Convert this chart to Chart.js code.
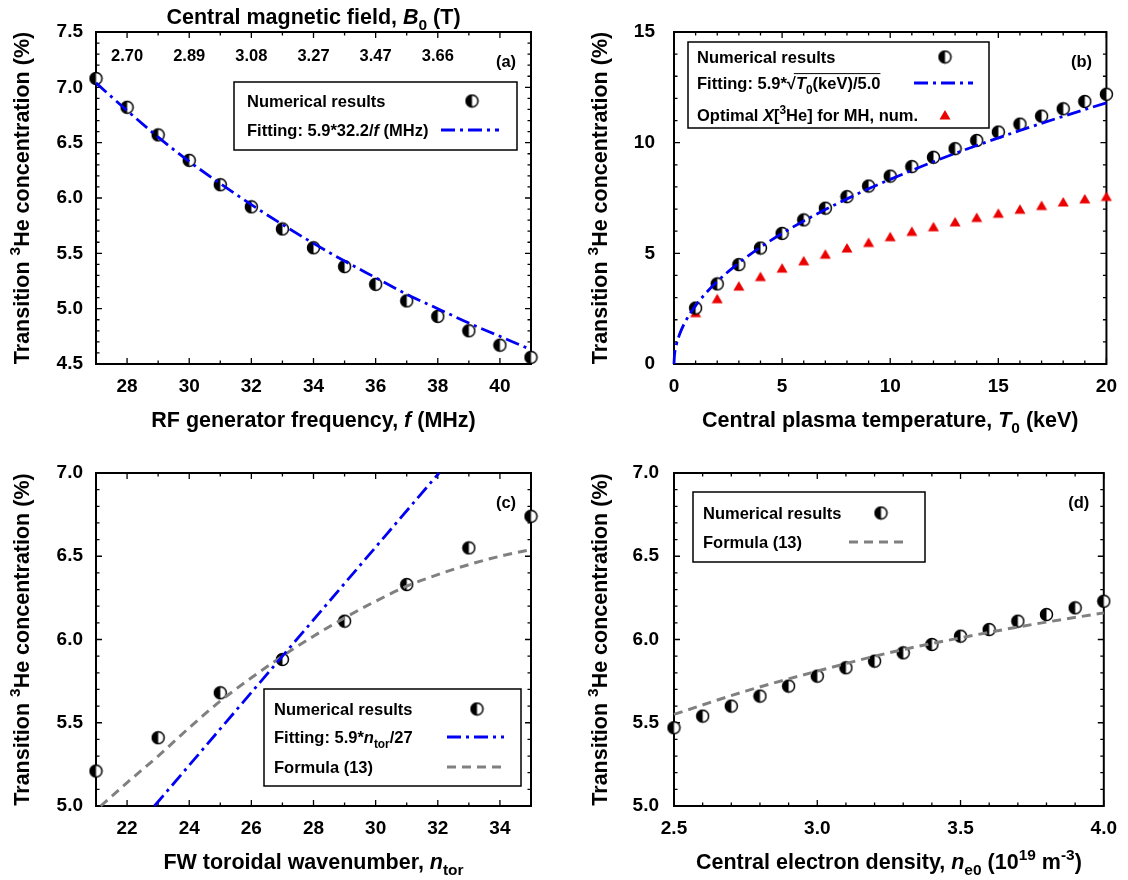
<!DOCTYPE html>
<html>
<head>
<meta charset="utf-8">
<script src="https://cdn.jsdelivr.net/npm/chart.js@4.4.1/dist/chart.umd.min.js"></script>
<style>
  body { margin: 0; background: #fff; }
  canvas { position: absolute; }
</style>
</head>
<body>
<canvas id="pa" width="564" height="440" style="left:0;top:0"></canvas>
<canvas id="pb" width="564" height="440" style="left:564px;top:0"></canvas>
<canvas id="pc" width="564" height="440" style="left:0;top:440px"></canvas>
<canvas id="pd" width="564" height="440" style="left:564px;top:440px"></canvas>
<script>
// (a) RF frequency scan
const freqMHz = [27, 28, 29, 30, 31, 32, 33, 34, 35, 36, 37, 38, 39, 40, 41];
const xHeFreq = [7.08, 6.82, 6.57, 6.34, 6.12, 5.92, 5.72, 5.55, 5.38, 5.22, 5.07, 4.93, 4.80, 4.67, 4.56];
const fitFreq = [7.04, 6.79, 6.55, 6.33, 6.13, 5.94, 5.76, 5.59, 5.43, 5.28, 5.13, 5.00, 4.87, 4.75, 4.63];
const bFieldAt = [28, 30, 32, 34, 36, 38];
const bFieldLabels = ['2.70', '2.89', '3.08', '3.27', '3.47', '3.66'];
const ticksFreq = [28, 30, 32, 34, 36, 38, 40];
const ticksA = [4.5, 5.0, 5.5, 6.0, 6.5, 7.0, 7.5];

// (b) temperature scan
const tempKeV = [1, 2, 3, 4, 5, 6, 7, 8, 9, 10, 11, 12, 13, 14, 15, 16, 17, 18, 19, 20];
const xHeTemp = [2.53, 3.62, 4.49, 5.24, 5.90, 6.51, 7.04, 7.56, 8.04, 8.49, 8.92, 9.34, 9.73, 10.10, 10.48, 10.84, 11.20, 11.53, 11.86, 12.19];
const optMH = [2.32, 2.95, 3.52, 3.95, 4.33, 4.66, 4.96, 5.24, 5.49, 5.75, 5.99, 6.20, 6.42, 6.62, 6.81, 6.99, 7.16, 7.32, 7.46, 7.57];
const fitTempX = [0, 0.02, 0.1, 0.25, 0.5, 1, 1.5, 2, 3, 4, 5, 6, 7, 8, 9, 10, 12, 14, 16, 18, 20];
const fitTempY = [0, 0.37, 0.83, 1.32, 1.87, 2.64, 3.23, 3.73, 4.57, 5.28, 5.90, 6.46, 6.98, 7.46, 7.92, 8.34, 9.14, 9.87, 10.55, 11.19, 11.80];
const ticksTemp = [0, 5, 10, 15, 20];
const ticksB = [0, 5, 10, 15];

// (c) toroidal wavenumber scan
const nTor = [21, 23, 25, 27, 29, 31, 33, 35];
const xHeTor = [5.21, 5.41, 5.68, 5.88, 6.11, 6.33, 6.55, 6.74];
const fitTorX = [22.88, 27, 32.04];
const fitTorY = [5.0, 5.9, 7.0];
const formTorX = [21.15, 22, 23, 24, 25, 26, 27, 28, 29, 30, 31, 32, 33, 34, 35];
const formTorY = [5.00, 5.14, 5.30, 5.47, 5.63, 5.77, 5.90, 6.02, 6.13, 6.23, 6.32, 6.39, 6.45, 6.50, 6.54];
const ticksTor = [22, 24, 26, 28, 30, 32, 34];
const ticksC = [5.0, 5.5, 6.0, 6.5, 7.0];

// (d) density scan
const neDens = [2.5, 2.6, 2.7, 2.8, 2.9, 3.0, 3.1, 3.2, 3.3, 3.4, 3.5, 3.6, 3.7, 3.8, 3.9, 4.0];
const xHeDens = [5.47, 5.54, 5.60, 5.66, 5.72, 5.78, 5.83, 5.87, 5.92, 5.97, 6.02, 6.06, 6.11, 6.15, 6.19, 6.23];
const formDensX = [2.5, 2.75, 3.0, 3.25, 3.5, 3.75, 4.0];
const formDensY = [5.55, 5.69, 5.81, 5.92, 6.01, 6.09, 6.16];
const ticksDens = [2.5, 3.0, 3.5, 4.0];
const ticksD = [5.0, 5.5, 6.0, 6.5, 7.0];

const FONT = '"Liberation Sans", Arial, sans-serif';
const BLUE = 'rgb(0,0,245)';
const GRAY = 'rgb(128,128,128)';
const blueDash = [14, 5, 3, 5];
const grayDash = [9, 6];

function halfCircle() {
  const c = document.createElement('canvas');
  c.width = c.height = 15;
  const g = c.getContext('2d');
  g.fillStyle = '#fff';
  g.beginPath(); g.arc(7.5, 7.5, 6, 0, 2 * Math.PI); g.fill();
  g.fillStyle = '#000';
  g.beginPath(); g.arc(7.5, 7.5, 6, Math.PI / 2, 3 * Math.PI / 2); g.closePath(); g.fill();
  g.strokeStyle = '#000'; g.lineWidth = 1.5;
  g.beginPath(); g.arc(7.5, 7.5, 6, 0, 2 * Math.PI); g.stroke();
  return c;
}
function triangle() {
  const c = document.createElement('canvas');
  c.width = c.height = 12;
  const g = c.getContext('2d');
  g.fillStyle = 'rgb(235,0,0)';
  g.beginPath(); g.moveTo(6, 1); g.lineTo(11.5, 10.5); g.lineTo(0.5, 10.5); g.closePath(); g.fill();
  return c;
}
const HALF = halfCircle();
const TRI = triangle();

const pts = (xs, ys) => xs.map((x, i) => ({ x: x, y: ys[i] }));

function lineSet(xs, ys, color, dash, width) {
  return { data: pts(xs, ys), showLine: true, pointRadius: 0, borderColor: color, borderWidth: width,
    borderDash: dash, fill: false, clip: false, cubicInterpolationMode: 'monotone' };
}
function pointSet(xs, ys, img) {
  return { data: pts(xs, ys), showLine: false, pointStyle: img, pointRadius: 6, clip: false };
}

// rich text: segments {t, i: italic, sub, sup, over}
function setFont(ctx, size, italic) {
  ctx.font = (italic ? 'italic ' : '') + 'bold ' + size + 'px ' + FONT;
}
const segSize = (s, size) => (s.sub || s.sup) ? size * 0.72 : size;
function drawRich(ctx, segs, x, cy, size, align) {
  let w = 0;
  segs.forEach(s => { setFont(ctx, segSize(s, size), s.i); w += ctx.measureText(s.t).width; });
  let px = align === 'center' ? x - w / 2 : x;
  const base = cy + size * 0.36;
  ctx.fillStyle = '#000';
  ctx.textAlign = 'left';
  ctx.textBaseline = 'alphabetic';
  let o0 = null, o1 = null;
  segs.forEach(s => {
    setFont(ctx, segSize(s, size), s.i);
    const dy = s.sub ? size * 0.28 : s.sup ? -size * 0.42 : 0;
    ctx.fillText(s.t, px, base + dy);
    const sw = ctx.measureText(s.t).width;
    if (s.over) { if (o0 === null) o0 = px; o1 = px + sw; }
    px += sw;
  });
  if (o0 !== null) {
    ctx.strokeStyle = '#000'; ctx.lineWidth = 1; ctx.setLineDash([]);
    ctx.beginPath(); ctx.moveTo(o0 - 2, base - size * 0.93); ctx.lineTo(o1, base - size * 0.93); ctx.stroke();
  }
}

const decoCfg = {};

function tickList(min, max, step) {
  const out = [];
  const n = Math.round((max - min) / step);
  for (let i = 0; i <= n; i++) out.push(+(min + i * step).toFixed(6));
  return out;
}
const isMajor = (v, majors) => majors.some(m => Math.abs(m - v) < 1e-6);

function drawFrame(chart, c) {
  const { ctx, chartArea: a, scales } = chart;
  ctx.save();
  ctx.strokeStyle = '#000';
  ctx.lineWidth = 1.3;
  ctx.setLineDash([]);
  ctx.beginPath();
  tickList(c.x.min, c.x.max, c.x.minor).forEach(v => {
    const p = scales.x.getPixelForValue(v);
    const L = isMajor(v, c.x.major) ? 6 : 3.5;
    ctx.moveTo(p, a.bottom); ctx.lineTo(p, a.bottom - L);
    ctx.moveTo(p, a.top); ctx.lineTo(p, a.top + L);
  });
  tickList(c.y.min, c.y.max, c.y.minor).forEach(v => {
    const p = scales.y.getPixelForValue(v);
    const L = isMajor(v, c.y.major) ? 6 : 3.5;
    ctx.moveTo(a.left, p); ctx.lineTo(a.left + L, p);
    ctx.moveTo(a.right, p); ctx.lineTo(a.right - L, p);
  });
  ctx.stroke();
  ctx.lineWidth = 2;
  ctx.strokeRect(a.left, a.top, a.right - a.left, a.bottom - a.top);
  ctx.restore();
}

function drawSample(ctx, it, lg) {
  if (it.sym === 'half') ctx.drawImage(HALF, lg.sym - 7.5, it.y - 7.5);
  else if (it.sym === 'tri') ctx.drawImage(TRI, lg.sym - 6, it.y - 6);
  else {
    const blue = it.sym === 'blue';
    ctx.strokeStyle = blue ? BLUE : GRAY;
    ctx.lineWidth = blue ? 2.8 : 3;
    ctx.setLineDash(blue ? blueDash : grayDash);
    ctx.beginPath(); ctx.moveTo(lg.line[0], it.y); ctx.lineTo(lg.line[1], it.y); ctx.stroke();
    ctx.setLineDash([]);
  }
}

function drawTexts(chart, c) {
  const { ctx, chartArea: a, scales } = chart;
  ctx.save();
  // axis titles
  drawRich(ctx, c.xTitle, (a.left + a.right) / 2, a.bottom + 55, 21.5, 'center');
  ctx.save();
  ctx.translate(a.left - 75, (a.top + a.bottom) / 2);
  ctx.rotate(-Math.PI / 2);
  drawRich(ctx, yTitle, 0, 0, 21.5, 'center');
  ctx.restore();
  // panel label
  drawRich(ctx, [{ t: c.tag }], a.right - 25, a.top + 29, 16.5, 'center');
  // legend
  const lg = c.legend;
  ctx.strokeStyle = '#000'; ctx.lineWidth = 1.5;
  ctx.strokeRect(lg.box[0], lg.box[1], lg.box[2] - lg.box[0], lg.box[3] - lg.box[1]);
  lg.items.forEach(it => {
    drawRich(ctx, it.segs, lg.text, it.y, 16.5, 'left');
    drawSample(ctx, it, lg);
  });
  // secondary top axis labels
  if (c.top) {
    c.top.at.forEach((v, i) => {
      drawRich(ctx, [{ t: c.top.labels[i] }], scales.x.getPixelForValue(v), a.top + 23, 16.5, 'center');
    });
    drawRich(ctx, c.top.title, (a.left + a.right) / 2, 16, 21.5, 'center');
  }
  ctx.restore();
}

Chart.register({
  id: 'deco',
  beforeDatasetsDraw(chart) { drawFrame(chart, decoCfg[chart.canvas.id]); },
  afterDraw(chart) { drawTexts(chart, decoCfg[chart.canvas.id]); }
});

const yTitle = [{ t: 'Transition ' }, { t: '3', sup: true }, { t: 'He concentration (%)' }];

function axisOpts(ax, dir) {
  return {
    type: 'linear',
    min: ax.min,
    max: ax.max,
    grid: { display: false, drawTicks: false },
    border: { display: false },
    afterBuildTicks: s => { s.ticks = ax.major.map(v => ({ value: v })); },
    afterFit: s => { if (dir === 'x') s.height = ax.size; else s.width = ax.size; },
    ticks: {
      autoSkip: false, maxRotation: 0, padding: ax.pad, color: '#000',
      font: { family: FONT, size: 19, weight: 'bold' },
      callback: v => Number(v).toFixed(ax.dec)
    }
  };
}

function makePanel(id, cfg) {
  decoCfg[id] = cfg;
  return new Chart(document.getElementById(id), {
    type: 'scatter',
    data: { datasets: cfg.datasets },
    options: {
      responsive: false,
      animation: false,
      events: [],
      layout: { padding: { left: 0, top: cfg.pad[0], right: cfg.pad[1], bottom: 0 } },
      plugins: { legend: { display: false }, tooltip: { enabled: false } },
      scales: { x: axisOpts(cfg.x, 'x'), y: axisOpts(cfg.y, 'y') }
    }
  });
}

makePanel('pa', {
  pad: [32, 33],
  x: { min: 27, max: 41, major: ticksFreq, minor: 1, dec: 0, size: 76, pad: 11 },
  y: { min: 4.5, max: 7.5, major: ticksA, minor: 0.1, dec: 1, size: 96, pad: 13 },
  datasets: [
    lineSet(freqMHz, fitFreq, BLUE, blueDash, 2.8),
    pointSet(freqMHz, xHeFreq, HALF)
  ],
  xTitle: [{ t: 'RF generator frequency, ' }, { t: 'f', i: true }, { t: ' (MHz)' }],
  tag: '(a)',
  top: {
    at: bFieldAt, labels: bFieldLabels,
    title: [{ t: 'Central magnetic field, ' }, { t: 'B', i: true }, { t: '0', sub: true }, { t: ' (T)' }]
  },
  legend: {
    box: [234, 82, 517, 150], text: 247, sym: 472, line: [441, 499],
    items: [
      { y: 101, sym: 'half', segs: [{ t: 'Numerical results' }] },
      { y: 130, sym: 'blue', segs: [{ t: 'Fitting: 5.9*32.2/' }, { t: 'f', i: true }, { t: ' (MHz)' }] }
    ]
  }
});

makePanel('pb', {
  pad: [32, 19],
  x: { min: 0, max: 20, major: ticksTemp, minor: 1, dec: 0, size: 76, pad: 11 },
  y: { min: 0, max: 15, major: ticksB, minor: 1, dec: 0, size: 110, pad: 19 },
  datasets: [
    lineSet(fitTempX, fitTempY, BLUE, blueDash, 2.8),
    pointSet(tempKeV, xHeTemp, HALF),
    pointSet(tempKeV, optMH, TRI)
  ],
  xTitle: [{ t: 'Central plasma temperature, ' }, { t: 'T', i: true }, { t: '0', sub: true }, { t: ' (keV)' }],
  tag: '(b)',
  legend: {
    box: [124, 42, 425, 128], text: 133, sym: 381, line: [350, 409],
    items: [
      { y: 57, sym: 'half', segs: [{ t: 'Numerical results' }] },
      { y: 83, sym: 'blue', segs: [{ t: 'Fitting: 5.9*' }, { t: '\u221A' }, { t: 'T', i: true, over: true },
        { t: '0', sub: true, over: true }, { t: '(keV)/5.0', over: true }] },
      { y: 115, sym: 'tri', segs: [{ t: 'Optimal ' }, { t: 'X', i: true }, { t: '[' }, { t: '3', sup: true }, { t: 'He] for MH, num.' }] }
    ]
  }
});

makePanel('pc', {
  pad: [33, 33],
  x: { min: 21, max: 35, major: ticksTor, minor: 1, dec: 0, size: 74, pad: 11 },
  y: { min: 5, max: 7, major: ticksC, minor: 0.1, dec: 1, size: 96, pad: 13 },
  datasets: [
    lineSet(fitTorX, fitTorY, BLUE, blueDash, 2.8),
    lineSet(formTorX, formTorY, GRAY, grayDash, 3),
    pointSet(nTor, xHeTor, HALF)
  ],
  xTitle: [{ t: 'FW toroidal wavenumber, ' }, { t: 'n', i: true }, { t: 'tor', sub: true }],
  tag: '(c)',
  legend: {
    box: [264, 249, 521, 346], text: 274, sym: 477, line: [447, 504],
    items: [
      { y: 269, sym: 'half', segs: [{ t: 'Numerical results' }] },
      { y: 297, sym: 'blue', segs: [{ t: 'Fitting: 5.9*' }, { t: 'n', i: true }, { t: 'tor', sub: true }, { t: '/27' }] },
      { y: 327, sym: 'gray', segs: [{ t: 'Formula (13)' }] }
    ]
  }
});

makePanel('pd', {
  pad: [33, 19],
  x: { min: 2.5, max: 4.0, major: ticksDens, minor: 0.1, dec: 1, size: 74, pad: 11 },
  y: { min: 5, max: 7, major: ticksD, minor: 0.1, dec: 1, size: 110, pad: 15 },
  datasets: [
    lineSet(formDensX, formDensY, GRAY, grayDash, 3),
    pointSet(neDens, xHeDens, HALF)
  ],
  xTitle: [{ t: 'Central electron density, ' }, { t: 'n', i: true }, { t: 'e0', sub: true }, { t: ' (10' },
    { t: '19', sup: true }, { t: ' m' }, { t: '-3', sup: true }, { t: ')' }],
  tag: '(d)',
  legend: {
    box: [129, 52, 361, 122], text: 139, sym: 317, line: [285, 345],
    items: [
      { y: 73, sym: 'half', segs: [{ t: 'Numerical results' }] },
      { y: 102, sym: 'gray', segs: [{ t: 'Formula (13)' }] }
    ]
  }
});
</script>
</body>
</html>
